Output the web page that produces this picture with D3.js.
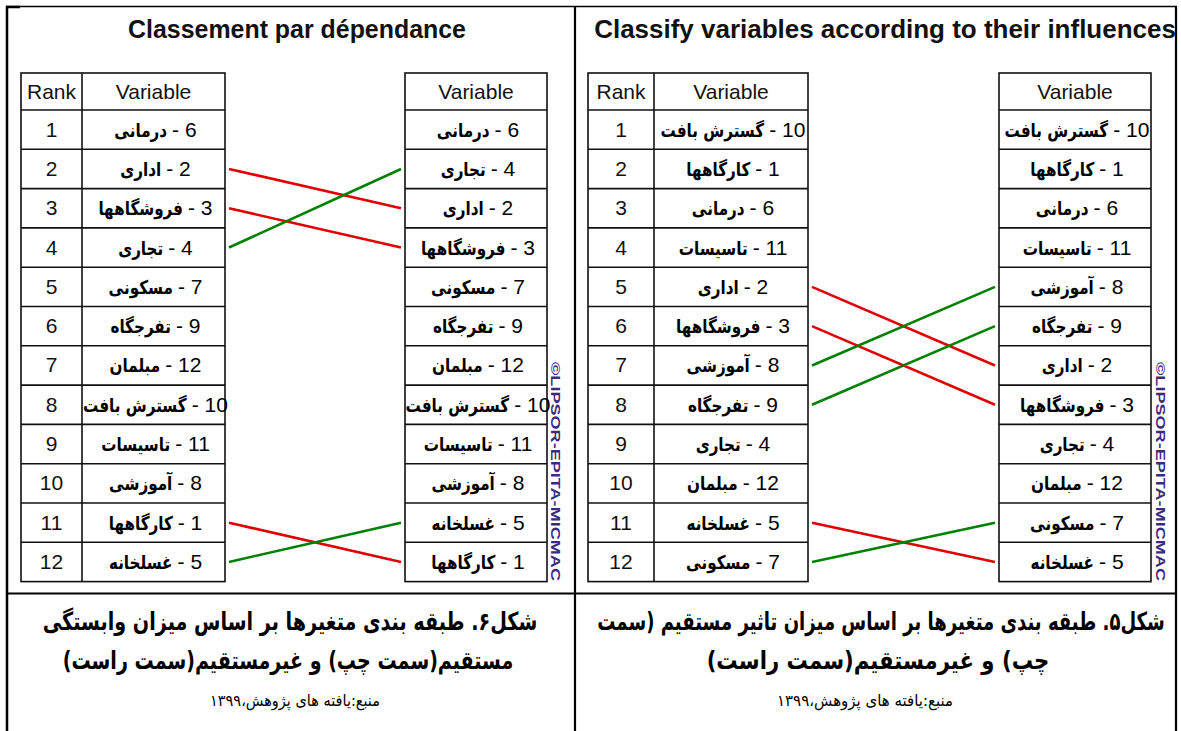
<!DOCTYPE html>
<html>
<head>
<meta charset="utf-8">
<script src="https://cdn.jsdelivr.net/npm/d3@7"></script>
<style>
  body { margin: 0; background: #fff; }
  svg { display: block; }
</style>
</head>
<body>
<div id="chart"></div>
<script>
// variables (id -> persian name)
const varIds = [1, 2, 3, 4, 5, 6, 7, 8, 9, 10, 11, 12];
const varNames = ["کارگاهها", "اداری", "فروشگاهها", "تجاری", "غسلخانه", "درمانی",
    "مسکونی", "آموزشی", "تفرجگاه", "گسترش بافت", "تاسیسات", "مبلمان"];
const rankLabels = d3.range(1, 13);

// ranking by dependence (left panel)
const dependDirect = [6, 2, 3, 4, 7, 9, 12, 10, 11, 8, 1, 5];
const dependIndirect = [6, 4, 2, 3, 7, 9, 12, 10, 11, 8, 5, 1];
// ranking by influence (right panel)
const influenceDirect = [10, 1, 6, 11, 2, 3, 8, 9, 4, 12, 5, 7];
const influenceIndirect = [10, 1, 6, 11, 8, 9, 2, 3, 4, 12, 7, 5];

const titles = ["Classement par dépendance", "Classify variables according to their influences"];
const captionsLeft = ["شکل۶. طبقه بندی متغیرها بر اساس میزان وابستگی",
    "مستقیم(سمت چپ) و غیرمستقیم(سمت راست)", "منبع:یافته های پژوهش،۱۳۹۹"];
const captionsRight = ["شکل۵. طبقه بندی متغیرها بر اساس میزان تاثیر مستقیم (سمت",
    "چپ) و غیرمستقیم(سمت راست)", "منبع:یافته های پژوهش،۱۳۹۹"];
const watermark = "©LIPSOR-EPITA-MICMAC";

const width = 1181, height = 731;
const nameOf = id => varNames[varIds.indexOf(id)];

const svg = d3.select("#chart").append("svg")
    .attr("width", width)
    .attr("height", height);

const latin = "'Liberation Sans Narrow', 'Liberation Sans', Arial, sans-serif";
const farsi = "'DejaVu Sans', sans-serif";
const RED = "#e00000", GREEN = "#008000";

// squeeze a text horizontally to a target width around cx
function fitX(t, cx, targetW) {
    const w = t.node().getComputedTextLength();
    t.attr("x", 0).attr("transform", `translate(${cx},0) scale(${targetW / w},1)`);
}

const panels = [
    {
        direct: dependDirect, indirect: dependIndirect, title: titles[0],
        titleX: 297, titleW: 338,
        rankX0: 21, rankX1: 82, varX1: 225, rightX0: 405, rightX1: 547, markX: 556,
        captions: captionsLeft,
        capX: [290, 288, 295], capW: [495, 451, 170]
    },
    {
        direct: influenceDirect, indirect: influenceIndirect, title: titles[1],
        titleX: 885, titleW: 582,
        rankX0: 588, rankX1: 654, varX1: 808, rightX0: 999, rightX1: 1151, markX: 1161,
        captions: captionsRight,
        capX: [881, 878, 865], capW: [568, 343, 176]
    }
];

const headTop = 73, bodyTop = 110, bodyBottom = 581.6;
const y = d3.scaleBand()
    .domain(rankLabels)
    .range([bodyTop, bodyBottom]);

panels.forEach(p => {
    const g = svg.append("g");

    // title
    const title = g.append("text")
        .attr("y", 38)
        .attr("text-anchor", "middle")
        .attr("font-family", latin)
        .attr("font-weight", "bold")
        .attr("font-size", 25)
        .attr("fill", "#111")
        .text(p.title);
    fitX(title, p.titleX, p.titleW);

    const grid = g.append("g")
        .attr("fill", "none")
        .attr("stroke", "#111")
        .attr("stroke-width", 1.6);

    // left table (rank + variable)
    grid.append("rect")
        .attr("x", p.rankX0).attr("y", headTop)
        .attr("width", p.varX1 - p.rankX0).attr("height", bodyBottom - headTop);
    grid.append("line")
        .attr("x1", p.rankX1).attr("x2", p.rankX1)
        .attr("y1", headTop).attr("y2", bodyBottom);
    // right table (variable)
    grid.append("rect")
        .attr("x", p.rightX0).attr("y", headTop)
        .attr("width", p.rightX1 - p.rightX0).attr("height", bodyBottom - headTop);

    const rowLines = [bodyTop].concat(rankLabels.map(r => y(r) + y.bandwidth()).slice(0, -1));
    rowLines.forEach(yy => {
        grid.append("line").attr("x1", p.rankX0).attr("x2", p.varX1).attr("y1", yy).attr("y2", yy);
        grid.append("line").attr("x1", p.rightX0).attr("x2", p.rightX1).attr("y1", yy).attr("y2", yy);
    });

    // header text
    const head = g.append("g")
        .attr("font-family", latin)
        .attr("font-size", 21)
        .attr("fill", "#111")
        .attr("text-anchor", "middle");
    const hy = (headTop + bodyTop) / 2 + 7;
    head.append("text").attr("x", (p.rankX0 + p.rankX1) / 2).attr("y", hy).text("Rank");
    head.append("text").attr("x", (p.rankX1 + p.varX1) / 2).attr("y", hy).text("Variable");
    head.append("text").attr("x", (p.rightX0 + p.rightX1) / 2).attr("y", hy).text("Variable");

    // rank numbers
    g.append("g").selectAll("text")
        .data(rankLabels)
        .join("text")
        .attr("x", (p.rankX0 + p.rankX1) / 2)
        .attr("y", d => y(d) + y.bandwidth() / 2 + 7)
        .attr("text-anchor", "middle")
        .attr("font-family", latin)
        .attr("font-size", 21)
        .attr("fill", "#111")
        .text(d => d);

    // variable labels: persian name (bold, squeezed) then "- n"
    function labels(list, cx) {
        const k = 0.8, gap = 5;
        list.forEach((id, i) => {
            const yy = y(rankLabels[i]) + y.bandwidth() / 2 + 7;
            const lg = g.append("g");
            const nm = lg.append("text")
                .attr("font-family", farsi)
                .attr("font-weight", "bold")
                .attr("font-size", 19)
                .attr("fill", "#000")
                .text(nameOf(id));
            const nb = lg.append("text")
                .attr("font-family", latin)
                .attr("font-size", 21)
                .attr("fill", "#000")
                .attr("y", yy)
                .text("-\u00A0" + id);
            const nw = nm.node().getComputedTextLength() * k;
            const bw = nb.node().getComputedTextLength();
            const x0 = cx - (nw + gap + bw) / 2;
            nm.attr("transform", `translate(${x0},${yy}) scale(${k},1)`);
            nb.attr("x", x0 + nw + gap);
        });
    }
    labels(p.direct, (p.rankX1 + p.varX1) / 2 + 2);
    labels(p.indirect, (p.rightX0 + p.rightX1) / 2 + 2);

    // connectors for variables whose rank changes
    const moves = varIds.map(id => ({
        id: id,
        from: p.direct.indexOf(id),
        to: p.indirect.indexOf(id)
    })).filter(m => m.from !== m.to);

    g.append("g").selectAll("line")
        .data(moves)
        .join("line")
        .attr("x1", p.varX1 + 4)
        .attr("x2", p.rightX0 - 4)
        .attr("y1", d => y(rankLabels[d.from]) + y.bandwidth() / 2)
        .attr("y2", d => y(rankLabels[d.to]) + y.bandwidth() / 2)
        .attr("stroke", d => d.to > d.from ? RED : GREEN)
        .attr("stroke-width", 2.6);

    // software watermark
    g.append("text")
        .attr("transform", `translate(${p.markX - 5},362) rotate(90)`)
        .attr("font-family", "'Liberation Sans', Arial, sans-serif")
        .attr("font-weight", "bold")
        .attr("font-size", 13)
        .attr("fill", "#3a2a80")
        .attr("textLength", 219)
        .attr("lengthAdjust", "spacingAndGlyphs")
        .text(watermark);

    // captions below
    const capY = [630, 669, 706];
    p.captions.forEach((c, i) => {
        const t = g.append("text")
            .attr("y", capY[i])
            .attr("direction", "rtl")
            .attr("text-anchor", "middle")
            .attr("font-family", farsi)
            .attr("font-weight", i < 2 ? "bold" : "normal")
            .attr("font-size", i < 2 ? 25 : 16)
            .attr("fill", "#000")
            .text(c);
        fitX(t, p.capX[i], p.capW[i]);
    });
});

// outer frame
const frame = svg.append("g").attr("stroke", "#000");
frame.append("line").attr("x1", 6).attr("x2", 1177).attr("y1", 6.5).attr("y2", 6.5).attr("stroke-width", 1.5);
frame.append("line").attr("x1", 6).attr("x2", 20).attr("y1", 7).attr("y2", 7).attr("stroke-width", 2.5);
frame.append("line").attr("x1", 7).attr("x2", 7).attr("y1", 6).attr("y2", height).attr("stroke-width", 2.5);
frame.append("line").attr("x1", 575).attr("x2", 575).attr("y1", 6).attr("y2", height).attr("stroke-width", 2.2);
frame.append("line").attr("x1", 1176).attr("x2", 1176).attr("y1", 6).attr("y2", height).attr("stroke-width", 2.2);
frame.append("line").attr("x1", 6).attr("x2", 1177).attr("y1", 593.5).attr("y2", 593.5).attr("stroke-width", 2.2);
</script>
</body>
</html>
